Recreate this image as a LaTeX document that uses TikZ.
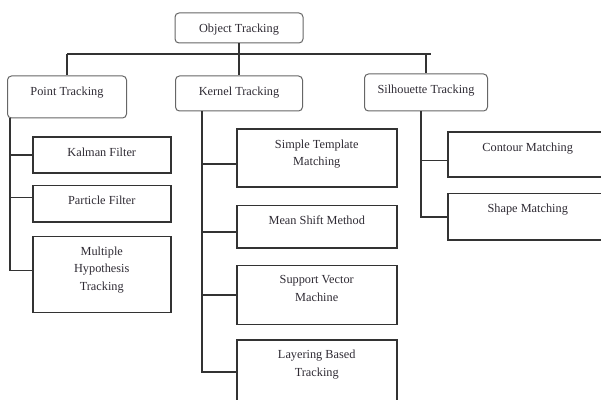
\documentclass[tikz,border=0pt]{standalone}
\usepackage{fontspec}
\setmainfont{Liberation Serif}
\usetikzlibrary{positioning}
\definecolor{ink}{HTML}{2E2A33}
\definecolor{wire}{HTML}{333333}
\definecolor{boxline}{HTML}{666666}

\begin{document}
\begin{tikzpicture}[
    x=1pt, y=1pt,
    txt/.style={font=\fontsize{12.3}{17.5}\selectfont, text=ink, align=center},
    head/.style={draw=boxline, line width=1pt, rounded corners=4pt,
        minimum width=#1},
    leaf/.style={draw=wire, line width=1.5pt, minimum width=#1},
    leaf/.default=160pt,
    boxtext/.style={label={[txt, anchor=north, inner sep=0pt, yshift=-11pt]north:#1}},
    link/.style={draw=wire, line width=1.5pt},
    bus/.style={draw=wire, line width=2pt}
]
    \useasboundingbox (0,0) rectangle (601,399);
    \clip (0,0) rectangle (601,399);

    %% --- Top level ---
    \node[head=128pt, minimum height=30pt, boxtext={Object Tracking}] (obj) at (239,371) {};
    \node[head=127pt, minimum height=35pt, boxtext={Kernel Tracking}, below=32pt of obj] (ker) {};
    \node[head=119pt, minimum height=42pt, boxtext={Point Tracking},
          left=48pt of ker.north west, anchor=north east] (pnt) {};
    \node[head=123pt, minimum height=37pt, boxtext={Silhouette Tracking},
          right=61pt of ker.north east, anchor=north west, yshift=2pt] (sil) {};

    %% --- Point Tracking ---
    \node[leaf=138pt, minimum height=36pt, boxtext={Kalman Filter},
          below right=18pt and 25pt of pnt.south west] (kal) {};
    \node[leaf=138pt, minimum height=36pt, boxtext={Particle Filter}, below=11pt of kal] (par) {};
    \node[leaf=138pt, minimum height=76pt, boxtext={Multiple\\Hypothesis\\Tracking}, below=13pt of par] (mht) {};

    %% --- Kernel Tracking ---
    \node[leaf, minimum height=58pt, boxtext={Simple Template\\Matching},
          below right=17pt and 61pt of ker.south west] (stm) {};
    \node[leaf, minimum height=42pt, boxtext={Mean Shift Method}, below=17pt of stm] (msm) {};
    \node[leaf, minimum height=59pt, boxtext={Support Vector\\Machine}, below=16pt of msm] (svm) {};
    \node[leaf, minimum height=80pt, boxtext={Layering Based\\Tracking}, below=14pt of svm] (lbt) {};

    %% --- Silhouette Tracking ---
    \node[leaf, minimum height=45pt, boxtext={Contour Matching},
          below right=20pt and 83pt of sil.south west] (con) {};
    \node[leaf, minimum height=46pt, boxtext={Shape Matching}, below=15pt of con] (shp) {};

    %% --- Connectors ---
    \coordinate (barL) at (67,345);
    \coordinate (barR) at (431,345);
    \draw[bus] (barL) -- (barR);
    \draw[link] (obj.south) -- (obj.south |- barL);
    \foreach \n in {pnt,ker,sil}
        \draw[link] (\n.north |- barL) -- (\n.north);

    \coordinate (pT) at ([xshift=3pt]pnt.south west);
    \coordinate (kT) at ([xshift=27pt]ker.south west);
    \coordinate (sT) at ([xshift=57pt]sil.south west);

    \draw[link] (pT) |- (kal.west);
    \draw[link] (pT) |- ([yshift=6pt]par.west);
    \draw[link] (pT) |- ([yshift=4pt]mht.west);

    \draw[link] (kT) |- ([yshift=-6pt]stm.west);
    \draw[link] (kT) |- ([yshift=-5pt]msm.west);
    \draw[link] (kT) |- (svm.west);
    \draw[link] (kT) |- ([yshift=-33pt]lbt.north west);

    \draw[link] (sT) |- ([yshift=-6pt]con.west);
    \draw[link] (sT) |- (shp.west);
\end{tikzpicture}
\end{document}
